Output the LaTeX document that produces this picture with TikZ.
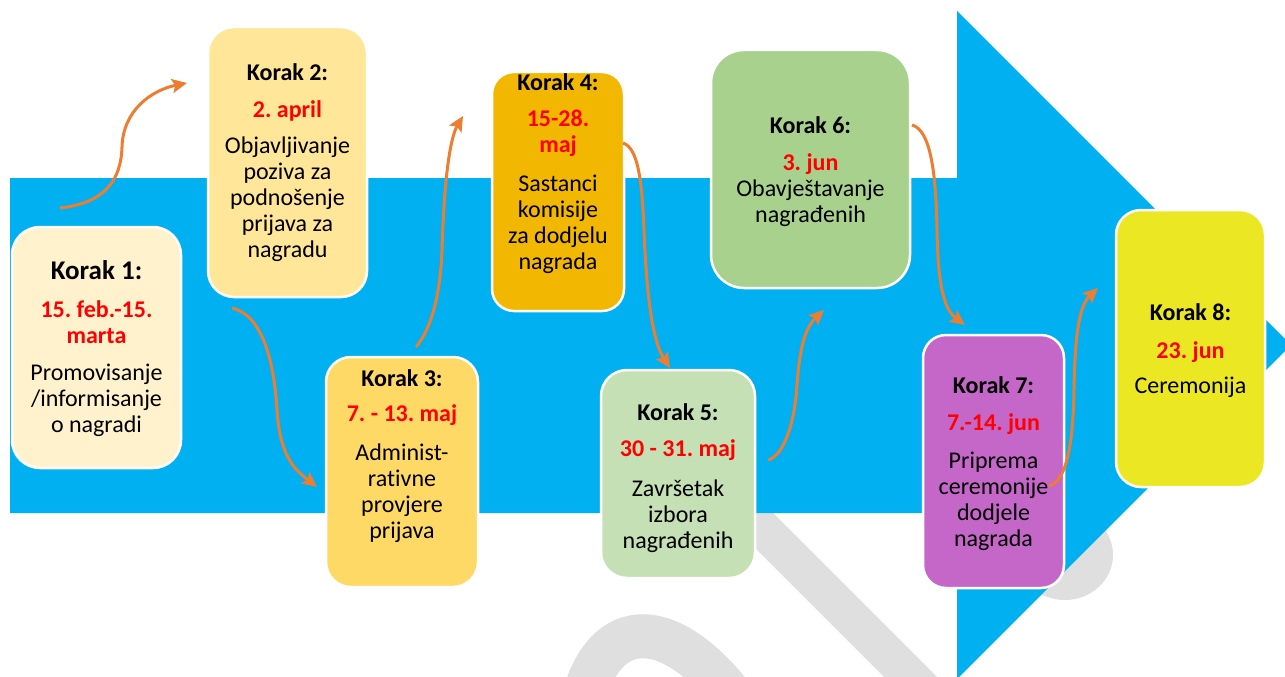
\documentclass[tikz,border=0pt]{standalone}
\usepackage{fontspec}
\setmainfont[Ligatures={NoCommon}]{Carlito}
\frenchspacing
\usetikzlibrary{arrows.meta}
\definecolor{bigblue}{HTML}{00B0F0}
\definecolor{flow}{HTML}{ED7D31}
\definecolor{cA}{HTML}{FFF2CC}
\definecolor{cB}{HTML}{FFE699}
\definecolor{cC}{HTML}{FFD966}
\definecolor{cD}{HTML}{F2B700}
\definecolor{cE}{HTML}{C5E0B4}
\definecolor{cF}{HTML}{A9D18E}
\definecolor{cG}{HTML}{C566C9}
\definecolor{cH}{HTML}{EBE823}
\definecolor{datered}{HTML}{FF0000}
\definecolor{wmgray}{HTML}{DFDFDF}
\newcommand{\ttl}{\bfseries}
\newcommand{\dte}{\color{datered}\bfseries}
\tikzset{
  stepbox/.style={draw=white, line width=2.5pt, inner sep=0pt},
  txt/.style={align=center, inner sep=0pt, anchor=north, font=\fontsize{24}{26}\selectfont\frenchspacing},
  flowarrow/.style={draw=flow, line width=3pt, -{Stealth[length=15pt,width=14pt,inset=3pt]}}
}
\begin{document}
\begin{tikzpicture}[x=1pt,y=-1pt]
\useasboundingbox (0,0) rectangle (1285,677);
\clip (0,0) rectangle (1285,677);
% watermark traces
\fill[wmgray] (687,480) -- (740,480) -- (950,690) -- (897,690) -- cycle;
\draw[wmgray, line width=44pt] (583,700) .. controls (605,615) and (670,615) .. (735,700);
\fill[wmgray] (1065,555) ellipse [x radius=48, y radius=45];
% big blue arrow
\fill[bigblue] (10,178) -- (957,178) -- (957,11) -- (1291,345) -- (957,679) -- (957,513) -- (10,513) -- cycle;
% boxes
\node[stepbox, fill=cA, minimum width=169pt, minimum height=241pt, rounded corners=28pt] (b1) at (96.5,347.5) {};
\node[stepbox, fill=cB, minimum width=159pt, minimum height=270pt, rounded corners=26pt] (b2) at (287.5,162) {};
\node[stepbox, fill=cC, minimum width=152pt, minimum height=230pt, rounded corners=25pt] (b3) at (402,472) {};
\node[stepbox, fill=cD, minimum width=132pt, minimum height=239pt, rounded corners=22pt] (b4) at (558,191.5) {};
\node[stepbox, fill=cE, minimum width=154pt, minimum height=208pt, rounded corners=26pt] (b5) at (678,474) {};
\node[stepbox, fill=cF, minimum width=199pt, minimum height=238pt, rounded corners=33pt] (b6) at (810.5,169) {};
\node[stepbox, fill=cG, minimum width=141pt, minimum height=253pt, rounded corners=23pt] (b7) at (993.5,461.5) {};
\node[stepbox, fill=cH, minimum width=149pt, minimum height=277pt, rounded corners=25pt] (b8) at (1190.5,348.5) {};
% arrow end points
\coordinate (a1s) at (60,208);   \coordinate (a1e) at (187,83);
\coordinate (a2s) at (232,308);  \coordinate (a2e) at (317,487);
\coordinate (a3s) at (416,347);  \coordinate (a3e) at (463,116);
\coordinate (a4s) at (623,143);  \coordinate (a4e) at (670,368);
\coordinate (a5s) at (768,460);  \coordinate (a5e) at (824,310);
\coordinate (a6s) at (912,125);  \coordinate (a6e) at (965,325);
\coordinate (a7s) at (1049,486); \coordinate (a7e) at (1098,288);
\draw[flowarrow] (a1s) .. controls (105,203) and (121,180) .. (122,147) .. controls (123,110) and (152,90) .. (a1e);
\draw[flowarrow] (a2s) .. controls (262,315) and (274,360) .. (277,410) .. controls (280,460) and (298,472) .. (a2e);
\draw[flowarrow] (a3s) .. controls (430,330) and (440,300) .. (442,250) .. controls (444,180) and (450,138) .. (a3e);
\draw[flowarrow] (a4s) .. controls (638,148) and (642,180) .. (644,230) .. controls (647,310) and (655,345) .. (a4e);
\draw[flowarrow] (a5s) .. controls (785,455) and (795,420) .. (797,385) .. controls (800,340) and (808,325) .. (a5e);
\draw[flowarrow] (a6s) .. controls (930,130) and (936,170) .. (937,230) .. controls (938,290) and (945,310) .. (a6e);
\draw[flowarrow] (a7s) .. controls (1068,480) and (1073,440) .. (1074,390) .. controls (1075,330) and (1080,305) .. (a7e);
% texts
\node[txt] (t1) at (96.5,260) {{\fontsize{27}{30}\selectfont\ttl Korak 1:}\\[12pt]{\dte 15. feb.-15.}\\{\dte marta}\\[11pt]Promovisanje\\/informisanje\\o nagradi};
\node[txt] (t2) at (287.5,63) {{\ttl Korak 2:}\\[11pt]{\dte 2. april}\\[10pt]Objavljivanje\\poziva za\\podnošenje\\prijava za\\nagradu};
\node[txt] (t3) at (402,369) {{\ttl Korak 3:}\\[9pt]{\dte 7. - 13. maj}\\[13pt]Administ-\\rativne\\provjere\\prijava};
\node[txt] (t4) at (558,73) {{\ttl Korak 4:}\\[10pt]{\dte 15-28.}\\{\dte maj}\\[13pt]Sastanci\\komisije\\za dodjelu\\nagrada};
\node[txt] (t5) at (678,403) {{\ttl Korak 5:}\\[10pt]{\dte 30 - 31. maj}\\[14pt]Završetak\\izbora\\nagrađenih};
\node[txt] (t6) at (810.5,116) {{\ttl Korak 6:}\\[11pt]{\dte 3. jun}\\Obavještavanje\\nagrađenih};
\node[txt] (t7) at (993.5,376) {{\ttl Korak 7:}\\[11pt]{\dte 7.-14. jun}\\[12pt]Priprema\\ceremonije\\dodjele\\nagrada};
\node[txt] (t8) at (1190.5,303) {{\ttl Korak 8:}\\[12pt]{\dte 23. jun}\\[9pt]Ceremonija};
\end{tikzpicture}
\end{document}
